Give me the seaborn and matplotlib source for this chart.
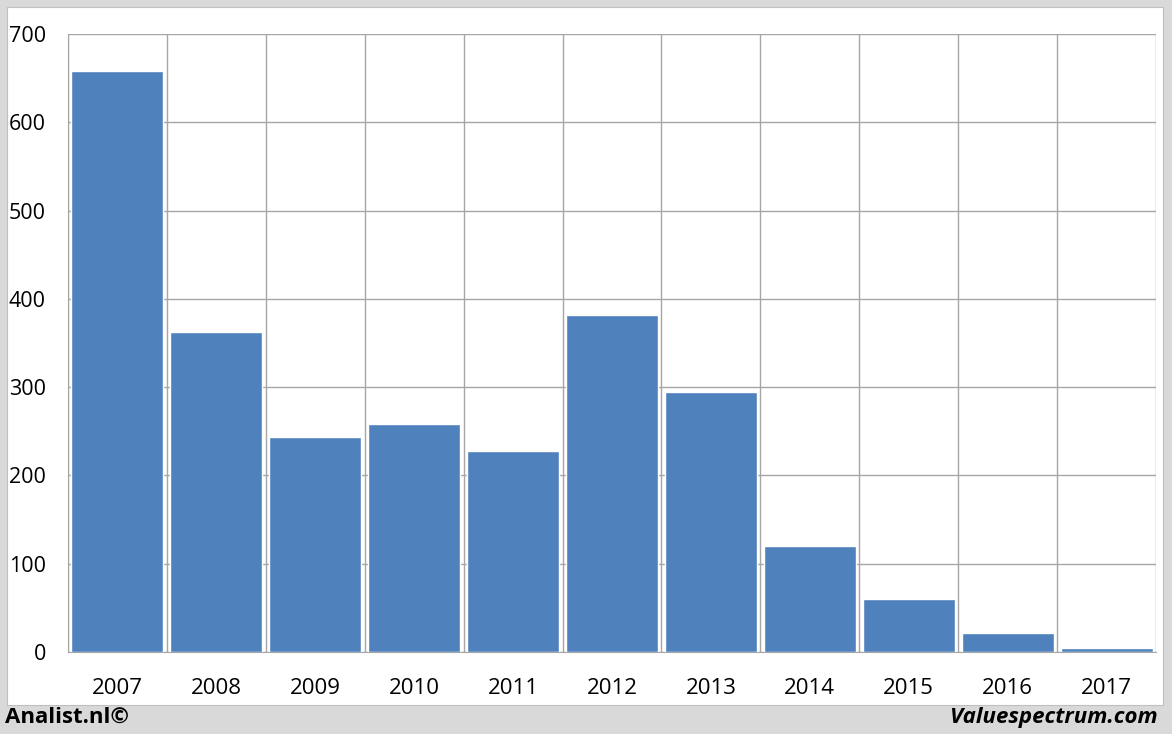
import matplotlib
matplotlib.use("Agg")
import matplotlib.pyplot as plt
from matplotlib.patches import Rectangle
import numpy as np
import pandas as pd
import seaborn as sns

years = ["2007", "2008", "2009", "2010", "2011", "2012", "2013", "2014", "2015", "2016", "2017"]
values = [658, 362, 244, 258, 228, 382, 295, 120, 60, 21, 4]
yticks = [0, 100, 200, 300, 400, 500, 600, 700]

df = pd.DataFrame({"year": years, "value": values})

sns.set_style("white")
plt.rcParams["font.family"] = ["Open Sans", "DejaVu Sans"]
plt.rcParams["text.color"] = "black"
plt.rcParams["xtick.color"] = "black"
plt.rcParams["ytick.color"] = "black"

fig = plt.figure(figsize=(11.72, 7.34), dpi=100)
fig.patch.set_facecolor("#d9d9d9")
# white panel inside the grey frame
fig.patches.append(Rectangle((7 / 1172, 29 / 734), 1156 / 1172, 698 / 734,
                             transform=fig.transFigure, facecolor="white",
                             edgecolor="#bfbfbf", lw=0.8, zorder=-1))

ax = fig.add_axes([68 / 1172, 82 / 734, 1088 / 1172, 618 / 734])
ax.set_zorder(2)
ax.set_facecolor("none")
sns.barplot(data=df, x="year", y="value", color="#4F81BD", width=0.93,
            saturation=1, ax=ax, zorder=3)

ax.set_xlim(-0.5, len(years) - 0.5)
ax.set_ylim(0, 700)
ax.set_yticks(yticks)
ax.set_xticks(np.arange(-0.5, len(years), 1.0), minor=True)
ax.set_xlabel("")
ax.set_ylabel("")

ax.grid(axis="y", which="major", color="#a6a6a6", lw=1, zorder=0)
ax.grid(axis="x", which="minor", color="#a6a6a6", lw=1, zorder=0)
ax.set_axisbelow(True)

for s in ["top", "right"]:
    ax.spines[s].set_visible(False)
ax.spines["left"].set_color("#a6a6a6")
ax.spines["bottom"].set_color("#a6a6a6")

ax.tick_params(axis="x", which="major", length=0, pad=19, labelsize=16)
ax.tick_params(axis="x", which="minor", length=10, color="#a6a6a6", direction="out")
ax.tick_params(axis="y", length=8, color="#a6a6a6", pad=8, labelsize=15.5)

fig.text(5 / 1172, 17 / 734, "Analist.nl©", fontsize=16, fontweight="bold",
         ha="left", va="center", color="black")
fig.text(1158 / 1172, 17 / 734, "Valuespectrum.com", fontsize=16, fontweight="bold",
         style="italic", ha="right", va="center", color="black")

fig.savefig("out.png", dpi=100, facecolor=fig.get_facecolor())
